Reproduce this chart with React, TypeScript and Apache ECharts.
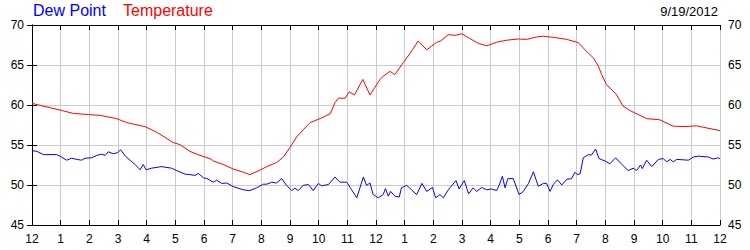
import React, { useEffect, useRef } from "react";
import * as echarts from "echarts";

const tickLabels = ["12","1","2","3","4","5","6","7","8","9","10","11","12","1","2","3","4","5","6","7","8","9","10","11","12"];
const yTicks = [45, 50, 55, 60, 65, 70];
const dateLabel = "9/19/2012";

const tempHours = [0,1.0,1.44,1.97,2.38,2.95,3.3,3.94,4.35,4.93,5.16,5.51,5.86,6.21,6.33,6.67,7.02,7.37,7.6,7.95,8.19,8.53,8.77,9.0,9.23,9.46,9.7,10.05,10.4,10.57,10.69,10.92,11.07,11.25,11.54,11.79,12.14,12.25,12.49,12.66,12.95,13.18,13.47,13.77,14.12,14.26,14.52,14.76,14.99,15.28,15.57,15.86,16.21,16.56,16.96,17.25,17.6,17.84,18.2,18.65,19.06,19.29,19.58,19.76,19.87,20.04,20.39,20.62,20.86,21.21,21.44,21.9,22.37,22.78,23.18,23.58,24];
const tempValues = [60.2,59.35,58.95,58.8,58.7,58.3,57.8,57.3,56.6,55.3,55.05,54.2,53.7,53.3,53.0,52.56,52.0,51.6,51.3,51.85,52.3,52.8,53.5,54.7,56.0,56.9,57.8,58.3,58.9,60.3,60.85,60.85,61.65,61.25,63.2,61.25,63.2,63.6,64.2,63.8,65.3,66.4,68.0,66.9,67.85,68.0,68.8,68.7,68.9,68.3,67.7,67.4,67.85,68.1,68.25,68.2,68.5,68.6,68.45,68.2,67.8,66.9,65.9,64.85,63.8,62.56,61.3,59.85,59.3,58.7,58.3,58.15,57.35,57.3,57.4,57.1,56.8];

const dewHours = [0,0.17,0.4,0.86,1.03,1.21,1.38,1.56,1.73,1.85,2.08,2.26,2.43,2.55,2.66,2.84,2.98,3.09,3.26,3.42,3.6,3.77,3.88,3.98,4.17,4.52,4.87,5.05,5.34,5.51,5.69,5.8,5.98,6.1,6.33,6.44,6.62,6.79,7.02,7.37,7.6,7.84,8.07,8.19,8.36,8.53,8.71,8.88,9.06,9.17,9.29,9.46,9.64,9.81,9.99,10.1,10.34,10.57,10.74,10.98,11.15,11.33,11.56,11.67,11.79,11.9,12.08,12.25,12.33,12.43,12.51,12.66,12.81,12.89,13.07,13.24,13.42,13.6,13.77,13.97,14.08,14.23,14.35,14.52,14.79,14.9,15.08,15.23,15.39,15.51,15.69,15.86,16.03,16.21,16.3,16.41,16.5,16.6,16.79,16.99,17.14,17.32,17.49,17.66,17.84,17.95,18.07,18.19,18.33,18.48,18.65,18.82,18.94,19.02,19.12,19.23,19.41,19.52,19.66,19.78,19.99,20.16,20.36,20.57,20.8,20.97,21.09,21.23,21.29,21.44,21.62,21.85,22.02,22.14,22.26,22.37,22.49,22.9,23.07,23.25,23.6,23.76,23.94,24];
const dewValues = [54.3,54.2,53.8,53.8,53.5,53.1,53.35,53.2,53.1,53.35,53.4,53.7,53.85,53.7,54.15,53.9,54.05,54.4,53.6,53.1,52.56,51.9,52.56,51.9,52.1,52.3,52.1,51.8,51.35,51.3,51.2,51.45,50.9,50.8,50.35,50.6,50.2,50.25,49.8,49.4,49.3,49.65,50.1,50.1,50.35,50.25,50.8,49.95,49.3,49.6,49.3,49.95,50.06,49.3,50.2,49.9,50.06,51.0,50.35,50.35,49.4,48.4,51.0,49.95,50.25,48.8,48.4,48.8,49.55,48.6,49.2,48.6,48.5,49.65,49.95,49.4,48.8,50.2,49.2,49.7,48.4,48.8,48.4,49.4,50.56,49.5,50.56,48.9,49.65,49.2,49.7,49.4,49.5,49.3,50.0,51.1,49.65,50.8,50.8,48.8,49.2,50.2,51.65,49.85,50.2,50.2,49.2,50.1,50.65,50.0,50.7,50.8,51.6,51.3,51.4,53.4,53.8,53.75,54.5,53.3,53.0,52.65,53.4,52.6,51.8,52.1,51.8,52.5,52.05,53.1,52.3,53.2,53.3,52.9,53.2,52.9,53.2,53.1,53.5,53.6,53.5,53.25,53.4,53.3];

const FONT = "'Liberation Sans', Arial, sans-serif";

export default function App() {
  const ref = useRef<HTMLDivElement>(null);
  useEffect(() => {
    if (!ref.current) return;
    const chart = echarts.init(ref.current, undefined, { renderer: "svg" });
    const zip = (xs: number[], ys: number[]) => xs.map((x, i) => [x, ys[i]]);
    const labelStyle = { color: "#000", fontFamily: FONT, fontSize: 12 };
    chart.setOption({
      animation: false,
      backgroundColor: "#fff",
      grid: { left: 32, right: 30, top: 25, bottom: 25, containLabel: false },
      graphic: [
        { type: "text", left: 33, top: 2, style: { text: "Dew Point", fill: "#0000ff", font: `16px ${FONT}` } },
        { type: "text", left: 123, top: 2, style: { text: "Temperature", fill: "#ff0000", font: `16px ${FONT}` } },
        { type: "text", right: 32, top: 5, style: { text: dateLabel, fill: "#000", font: `13px ${FONT}` } },
      ],
      xAxis: [
        {
          type: "value", min: 0, max: 24, interval: 1, position: "bottom",
          axisLine: { lineStyle: { color: "#000", width: 1 } },
          axisTick: { inside: true, length: 5, lineStyle: { color: "#000" } },
          axisLabel: { ...labelStyle, margin: 8, formatter: (v: number) => tickLabels[Math.round(v)] ?? "" },
          splitLine: { show: true, lineStyle: { color: "#cccccc", width: 1 } },
        },
        {
          type: "value", min: 0, max: 24, interval: 1, position: "top",
          axisLine: { show: true, lineStyle: { color: "#000", width: 1 } },
          axisTick: { show: true, inside: true, length: 5, lineStyle: { color: "#000" } },
          axisLabel: { show: false },
          splitLine: { show: false },
        },
      ],
      yAxis: [
        {
          type: "value", min: yTicks[0], max: yTicks[yTicks.length - 1], interval: 5, position: "left",
          axisLine: { show: true, lineStyle: { color: "#000", width: 1 } },
          axisTick: { show: true, inside: true, length: 5, lineStyle: { color: "#000" } },
          axisLabel: { ...labelStyle, margin: 8 },
          splitLine: { show: true, lineStyle: { color: "#cccccc", width: 1 } },
        },
        {
          type: "value", min: yTicks[0], max: yTicks[yTicks.length - 1], interval: 5, position: "right",
          axisLine: { show: true, lineStyle: { color: "#000", width: 1 } },
          axisTick: { show: true, inside: true, length: 5, lineStyle: { color: "#000" } },
          axisLabel: { ...labelStyle, margin: 8 },
          splitLine: { show: false },
        },
      ],
      series: [
        {
          name: "Dew Point", type: "line", data: zip(dewHours, dewValues), showSymbol: false,
          lineStyle: { color: "#0000ff", width: 1 }, itemStyle: { color: "#0000ff" },
        },
        {
          name: "Temperature", type: "line", data: zip(tempHours, tempValues), showSymbol: false,
          lineStyle: { color: "#ff0000", width: 1 }, itemStyle: { color: "#ff0000" },
        },
      ],
    });
    return () => chart.dispose();
  }, []);
  return <div ref={ref} style={{ position: "fixed", left: 0, top: 0, width: 750, height: 250 }} />;
}
